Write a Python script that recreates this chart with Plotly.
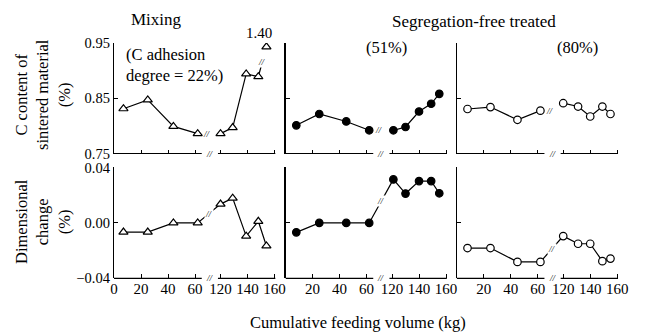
import plotly.graph_objects as go

# ---------------- data ----------------
# Mixing (C adhesion degree = 22%)
mix_kg_a = [7, 25, 44, 62]
mix_kg_b = [120, 129, 139, 148, 154]
mix_c_a = [0.831, 0.847, 0.799, 0.786]
mix_c_b = [0.786, 0.797, 0.894, 0.889, 1.40]
mix_d_a = [-0.0066, -0.0066, 0.0, 0.0]
mix_d_b = [0.0136, 0.0179, -0.0095, 0.0012, -0.0166]

# Segregation-free treated (51%)
s51_kg_a = [8, 25, 45, 62]
s51_kg_b = [121, 130, 140, 149, 155]
s51_c_a = [0.801, 0.8215, 0.808, 0.792]
s51_c_b = [0.792, 0.798, 0.826, 0.840, 0.858]
s51_d_a = [-0.0068, 0.0, 0.0, 0.0]
s51_d_b = [0.0314, 0.0212, 0.0302, 0.0302, 0.0214]

# Segregation-free treated (80%)
s80_kg_a = [8, 25, 45, 62]
s80_kg_b = [120, 131, 140, 149, 155]
s80_c_a = [0.8305, 0.834, 0.811, 0.8275]
s80_c_b = [0.841, 0.835, 0.817, 0.835, 0.8215]
s80_d_a = [-0.0181, -0.0181, -0.0281, -0.0281]
s80_d_b = [-0.0095, -0.015, -0.015, -0.0276, -0.0257]

# tick labels
x_ticks_a = [0, 20, 40, 60]
x_ticks_b = [120, 140, 160]
c_ticks = [0.75, 0.85, 0.95]
c_tick_text = ["0.75", "0.85", "0.95"]
d_ticks = [-0.04, 0.0, 0.04]
d_tick_text = ["\u22120.04", "0.00", "0.04"]

# ---------------- styling / layout constants ----------------
FONT = "Liberation Serif, Times New Roman, serif"
BREAK_SHIFT = 41.1          # broken x axis: 120 kg drawn right after 60 kg
C_RANGE = [0.75, 0.95]
D_RANGE = [-0.04, 0.04]
CLIP_Y = 0.943              # where an off-scale value is drawn
X_RANGE = [0, 120]
AXIS_SEGS = [(0, 65), (77, 119.5)]
X_DOM = [[114 / 645, 276 / 645], [285.5 / 645, 447.5 / 645], [456.7 / 645, 618.7 / 645]]
Y_DOM = [[0.539, 0.871], [0.164, 0.497]]


def tx(v):
    return v - BREAK_SHIFT if v >= 100 else v


panels = [
    dict(kg_a=mix_kg_a, kg_b=mix_kg_b, c_a=mix_c_a, c_b=mix_c_b, d_a=mix_d_a, d_b=mix_d_b,
         symbol="triangle-up", fill="white", size=8),
    dict(kg_a=s51_kg_a, kg_b=s51_kg_b, c_a=s51_c_a, c_b=s51_c_b, d_a=s51_d_a, d_b=s51_d_b,
         symbol="circle", fill="black", size=7.5),
    dict(kg_a=s80_kg_a, kg_b=s80_kg_b, c_a=s80_c_a, c_b=s80_c_b, d_a=s80_d_a, d_b=s80_d_b,
         symbol="circle", fill="white", size=7.5),
]

fig = go.Figure()
annotations = []
shapes = []
layout = {}


def brk(xref, yref, x, y, bg=None, size=9):
    a = dict(x=x, y=y, xref=xref, yref=yref, text="<i>//</i>", showarrow=False,
             font=dict(family=FONT, size=size, color="black"), xanchor="center", yanchor="middle",
             borderpad=0)
    if bg:
        a["bgcolor"] = bg
    annotations.append(a)


for p, pan in enumerate(panels):
    for r in range(2):
        n = r * 3 + p + 1
        xs = "x" if n == 1 else f"x{n}"
        ys = "y" if n == 1 else f"y{n}"
        xa = "xaxis" if n == 1 else f"xaxis{n}"
        ya = "yaxis" if n == 1 else f"yaxis{n}"
        mk = dict(symbol=pan["symbol"], size=pan["size"], color=pan["fill"],
                  line=dict(color="black", width=1.2))

        if r == 0:
            ya_vals, yb_vals, rng = pan["c_a"], pan["c_b"], C_RANGE
        else:
            ya_vals, yb_vals, rng = pan["d_a"], pan["d_b"], D_RANGE

        lx = [tx(k) for k in pan["kg_a"]]
        ly = list(ya_vals)
        mx = [tx(k) for k in pan["kg_a"]]
        my = list(ya_vals)
        if r == 0:
            lx.append(None)
            ly.append(None)
            # break mark right after the first segment
            brk(xs, ys, tx(pan["kg_a"][-1]) + 7, ya_vals[-1])
        else:
            mid_x = (tx(pan["kg_a"][-1]) + tx(pan["kg_b"][0])) / 2
            mid_y = (ya_vals[-1] + yb_vals[0]) / 2
            brk(xs, ys, mid_x, mid_y, bg="white")

        prev = None
        for k, v in zip(pan["kg_b"], yb_vals):
            if v > rng[1]:
                yv = CLIP_Y
                mxp = (tx(prev[0]) + tx(k)) / 2
                myp = (prev[1] + yv) / 2
                lx += [mxp, None]
                ly += [myp, None]
                brk(xs, ys, mxp, myp, bg="white")
                mx.append(tx(k))
                my.append(yv)
                annotations.append(dict(x=tx(k), y=yv, xref=xs, yref=ys, text=f"{v:.2f}",
                                        showarrow=False, yshift=14, xshift=-7,
                                        xanchor="center", yanchor="middle",
                                        font=dict(family=FONT, size=15, color="black")))
            else:
                lx.append(tx(k))
                ly.append(v)
                mx.append(tx(k))
                my.append(v)
            prev = (k, v)

        fig.add_trace(go.Scatter(x=lx, y=ly, mode="lines", xaxis=xs, yaxis=ys,
                                 line=dict(color="black", width=1.2), showlegend=False,
                                 hoverinfo="skip"))
        fig.add_trace(go.Scatter(x=mx, y=my, mode="markers", xaxis=xs, yaxis=ys,
                                 marker=mk, showlegend=False))

        # x axis (broken)
        if p == 0:
            tv = [tx(v) for v in x_ticks_a] + [tx(v) for v in x_ticks_b]
            tt = [str(v) for v in x_ticks_a + x_ticks_b]
        else:
            tv = [tx(v) for v in x_ticks_a[1:]] + [tx(v) for v in x_ticks_b]
            tt = [str(v) for v in x_ticks_a[1:] + x_ticks_b]
        layout[xa] = dict(domain=X_DOM[p], range=X_RANGE, anchor=ys, showline=False,
                          showgrid=False, zeroline=False, ticks="inside", ticklen=4,
                          tickwidth=1, tickcolor="black", tickvals=tv, ticktext=tt,
                          showticklabels=(r == 1), automargin=False,
                          tickfont=dict(family=FONT, size=15, color="black"))
        for s0, s1 in AXIS_SEGS:
            shapes.append(dict(type="line", xref=xs, yref=f"{ys} domain", x0=s0, x1=s1,
                               y0=0, y1=0, line=dict(color="black", width=1.2)))
        brk(xs, f"{ys} domain", (AXIS_SEGS[0][1] + AXIS_SEGS[1][0]) / 2, 0)

        # y axis
        layout[ya] = dict(domain=Y_DOM[r], range=rng, anchor=xs, showline=True,
                          linecolor="black", linewidth=1.2, showgrid=False, zeroline=False,
                          ticks="inside", ticklen=4, tickwidth=1, tickcolor="black",
                          tickvals=c_ticks if r == 0 else d_ticks,
                          ticktext=c_tick_text if r == 0 else d_tick_text,
                          showticklabels=(p == 0), automargin=False,
                          tickfont=dict(family=FONT, size=14.5, color="black"))


# text labels
def txt(s, x, y, size=16.5, xanchor="center", **kw):
    annotations.append(dict(text=s, x=x, y=y, xref="paper", yref="paper", showarrow=False,
                            xanchor=xanchor, yanchor="middle",
                            font=dict(family=FONT, size=size, color="black"), **kw))


txt("Mixing", 156 / 645, 1 - 20 / 333, size=17)
txt("Segregation-free treated", 474 / 645, 1 - 21 / 333, size=17)
txt("(51%)", 386 / 645, 1 - 48 / 333)
txt("(80%)", 577.5 / 645, 1 - 48 / 333)
txt("(C adhesion<br>degree = 22%)", 124 / 645, 1 - 64.5 / 333, xanchor="left", align="left")
txt("C content of<br>sintered material<br>(%)", 43 / 645, 1 - 95 / 333, textangle=-90)
txt("Dimensional<br>change<br>(%)", 43 / 645, 1 - 222 / 333, textangle=-90)
txt("Cumulative feeding volume (kg)", 358 / 645, 1 - 322 / 333)

fig.update_layout(template="none", width=645, height=333,
                  margin=dict(l=0, r=0, t=0, b=0, pad=0, autoexpand=False),
                  paper_bgcolor="white", plot_bgcolor="white", showlegend=False,
                  annotations=annotations, shapes=shapes, hovermode=False,
                  font=dict(family=FONT, color="black"), **layout)

fig.write_html("out.html", config={"displayModeBar": False, "staticPlot": True},
               post_script="document.body.style.margin='0px';")
